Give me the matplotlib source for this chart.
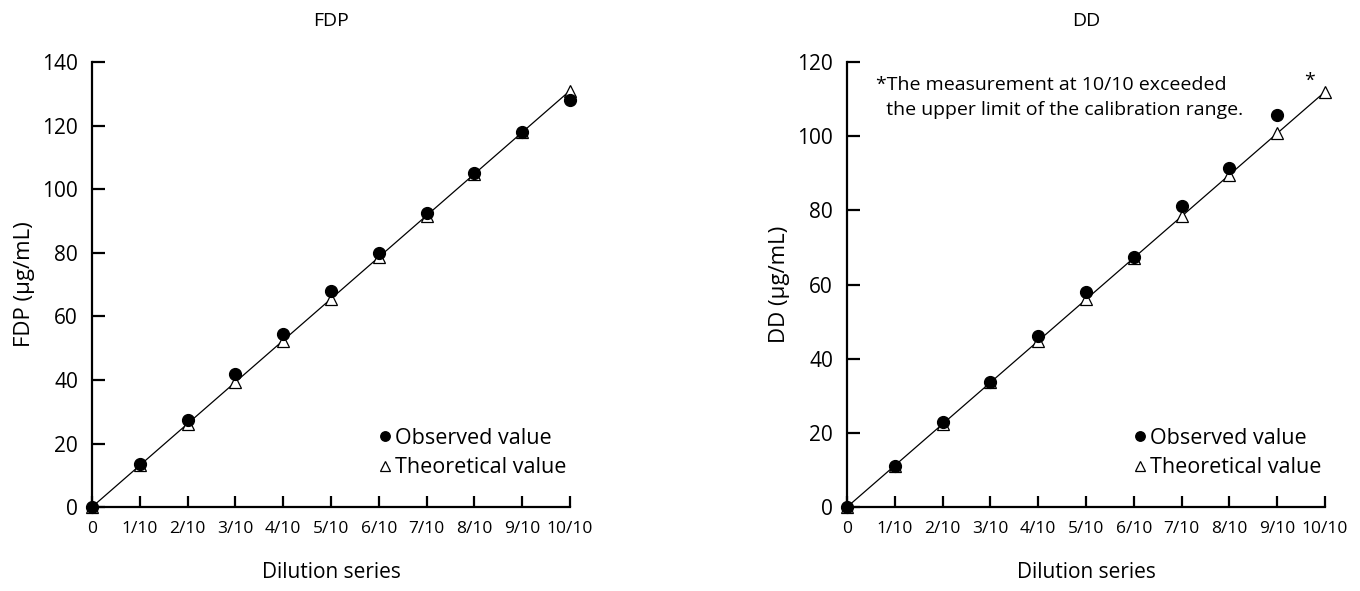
import numpy as np
import matplotlib.pyplot as plt

plt.rcParams['font.family'] = ['Open Sans', 'DejaVu Sans']

# --- DATA ---
dilution_labels = ['0', '1/10', '2/10', '3/10', '4/10', '5/10', '6/10', '7/10', '8/10', '9/10', '10/10']
steps = np.arange(len(dilution_labels))

fdp_observed = [0, 13.5, 27.5, 42.0, 54.5, 68.0, 80.0, 92.5, 105.0, 118.0, 128.0]
fdp_theoretical = [0, 13.1, 26.2, 39.3, 52.4, 65.5, 78.6, 91.7, 104.8, 117.9, 131.0]

dd_observed = [0, 11.0, 23.0, 33.8, 46.0, 58.0, 67.5, 81.3, 91.3, 105.8]
dd_theoretical = [0, 11.2, 22.4, 33.6, 44.8, 56.0, 67.2, 78.4, 89.6, 100.8, 112.0]

fig = plt.figure(figsize=(13.6, 5.91), dpi=100)
ax1 = fig.add_axes([0.0676, 0.142, 0.3515, 0.753])
ax2 = fig.add_axes([0.6228, 0.142, 0.3515, 0.753])


def style_panel(ax, title, ylabel, ymax, ystep, obs, theo):
    x_theo = steps[:len(theo)]
    x_obs = steps[:len(obs)]
    ax.plot(x_theo, theo, color='black', lw=0.9, zorder=1)
    ax.plot(x_theo, theo, linestyle='none', marker='^', markersize=9,
            markerfacecolor='white', markeredgecolor='black', markeredgewidth=0.9,
            label='Theoretical value', zorder=2, clip_on=False)
    ax.plot(x_obs, obs, linestyle='none', marker='o', markersize=8.5,
            color='black', label='Observed value', zorder=3, clip_on=False)

    ax.set_xlim(0, 10)
    ax.set_ylim(0, ymax)
    ax.set_xticks(steps)
    ax.set_xticklabels(dilution_labels)
    ax.set_yticks(np.arange(0, ymax + 1, ystep))

    for s in ['top', 'right']:
        ax.spines[s].set_visible(False)
    for s in ['left', 'bottom']:
        ax.spines[s].set_linewidth(1.6)

    ax.tick_params(axis='x', direction='in', length=8, width=1.6, labelsize=12.5, pad=10)
    ax.tick_params(axis='y', direction='in', length=9, width=1.6, labelsize=15, pad=10)

    ax.set_title(title, fontsize=14, pad=26)
    ax.set_ylabel(ylabel, fontsize=16, labelpad=5)
    ax.set_xlabel('Dilution series', fontsize=15, labelpad=18)

    handles, labels = ax.get_legend_handles_labels()
    ax.legend(handles[::-1], labels[::-1], loc='lower right', bbox_to_anchor=(1.01, 0.045),
              frameon=False, fontsize=15.5, handlelength=0.5, handletextpad=0.2,
              labelspacing=0.4, borderaxespad=0, markerscale=0.8)


style_panel(ax1, 'FDP', 'FDP (μg/mL)', 140, 20, fdp_observed, fdp_theoretical)
style_panel(ax2, 'DD', 'DD (μg/mL)', 120, 20, dd_observed, dd_theoretical)

ax2.text(0.06, 0.968, '*The measurement at 10/10 exceeded\n  the upper limit of the calibration range.',
         transform=ax2.transAxes, fontsize=14, va='top', ha='left', linespacing=1.45)
ax2.annotate('*', xy=(10, dd_theoretical[-1]), xytext=(-11, 1), textcoords='offset points',
             fontsize=14, ha='center', va='bottom')

fig.savefig('out.png', dpi=100)
